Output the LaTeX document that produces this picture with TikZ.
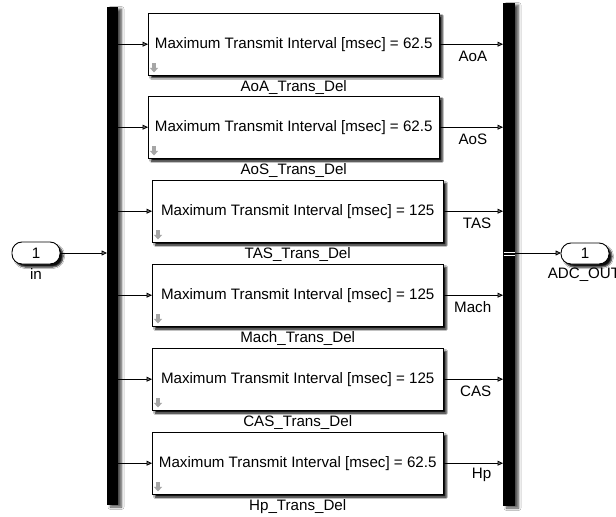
\documentclass[tikz,border=0pt]{standalone}
\usepackage{fontspec}
\setmainfont{Liberation Sans}
\usetikzlibrary{arrows.meta,shadows.blur,calc}
\tikzset{
  lbl/.style={font=\fontsize{15.2}{17}\selectfont, inner sep=0pt},
  blk/.style={draw=black, line width=0.9bp, fill=white,
    blur shadow={shadow xshift=3bp, shadow yshift=-3bp, shadow blur steps=5, shadow blur radius=1.5bp, shadow opacity=95}},
  bus/.style={fill=black, draw=none,
    blur shadow={shadow xshift=3.5bp, shadow yshift=-2bp, shadow blur steps=6, shadow blur radius=2.5bp, shadow opacity=70}},
  port/.style={draw=black, line width=0.9bp, fill=white, rounded corners=10bp,
    blur shadow={shadow xshift=3bp, shadow yshift=-3bp, shadow blur steps=5, shadow blur radius=1.5bp, shadow opacity=95}},
  sig/.style={line width=0.8bp, -{Triangle[length=5.5bp,width=5bp]}},
}
% small grey downward arrow drawn in the lower left corner of a block
\newcommand{\dnicon}[1]{%
  \fill[gray!70] ($(#1)+(-1.8,-4.5)$) rectangle ($(#1)+(1.8,0.5)$);
  \fill[gray!70] ($(#1)+(-4.2,0)$) -- ($(#1)+(4.2,0)$) -- ($(#1)+(0,4.5)$) -- cycle;}
\begin{document}
\begin{tikzpicture}[x=1bp,y=-1bp]
\useasboundingbox (0,0) rectangle (616,517);
\fill[white] (0,0) rectangle (616,517);

% bus bars
\path[bus] (107,7) rectangle (118,505);
\path[bus] (503,3) rectangle (515,506);
\coordinate (lbus) at (107,253);
\coordinate (rbus) at (515,253);
\draw[white, line width=1.3bp] (503.5,252.3) -- (514.5,252.3);
\draw[white, line width=1.3bp] (503.5,255.6) -- (514.5,255.6);

% ports
\path[port] (12,242) rectangle (60,264);
\node[lbl] (pin) at (36,253) {1};
\node[lbl] (pinlbl) at (36,274) {in};
\coordinate (pinE) at (60,253);
\path[port] (561,243) rectangle (609,264);
\node[lbl] (pout) at (585,253.5) {1};
\node[lbl] (poutlbl) at (584,275) {ADC\_OUT};
\coordinate (poutW) at (561,253);
\draw[sig] (pinE) -- (lbus);
\draw[sig] (rbus) -- (poutW);

% delay blocks
\foreach \nm/\xa/\ya/\val/\sg in {
  AoA/148/13/62.5/AoA,
  AoS/148/96/62.5/AoS,
  TAS/152/180/125/TAS,
  Mach/152/264/125/Mach,
  CAS/152/348/125/CAS,
  Hp/152/432/62.5/Hp}{
  \path[blk] (\xa,\ya) rectangle ++(291,62);
  \node[lbl, minimum width=291bp, minimum height=62bp, anchor=north west] (b\nm) at (\xa,\ya) {};
  \node[lbl] (t\nm) at (b\nm.center) {Maximum Transmit Interval [msec] = \val};
  \node[lbl] (n\nm) at ($(b\nm.south)+(0,12)$) {\nm\_Trans\_Del};
  \coordinate (ic\nm) at ($(b\nm.south west)+(6,-7.5)$);
  \dnicon{ic\nm}
  \draw[sig] (118,0 |- b\nm.west) -- (b\nm.west);
  \draw[sig] (b\nm.east) -- (503,0 |- b\nm.east);
  \node[lbl, anchor=east] (s\nm) at ($(b\nm.east)+(48,12)$) {\sg};
}
\end{tikzpicture}
\end{document}
